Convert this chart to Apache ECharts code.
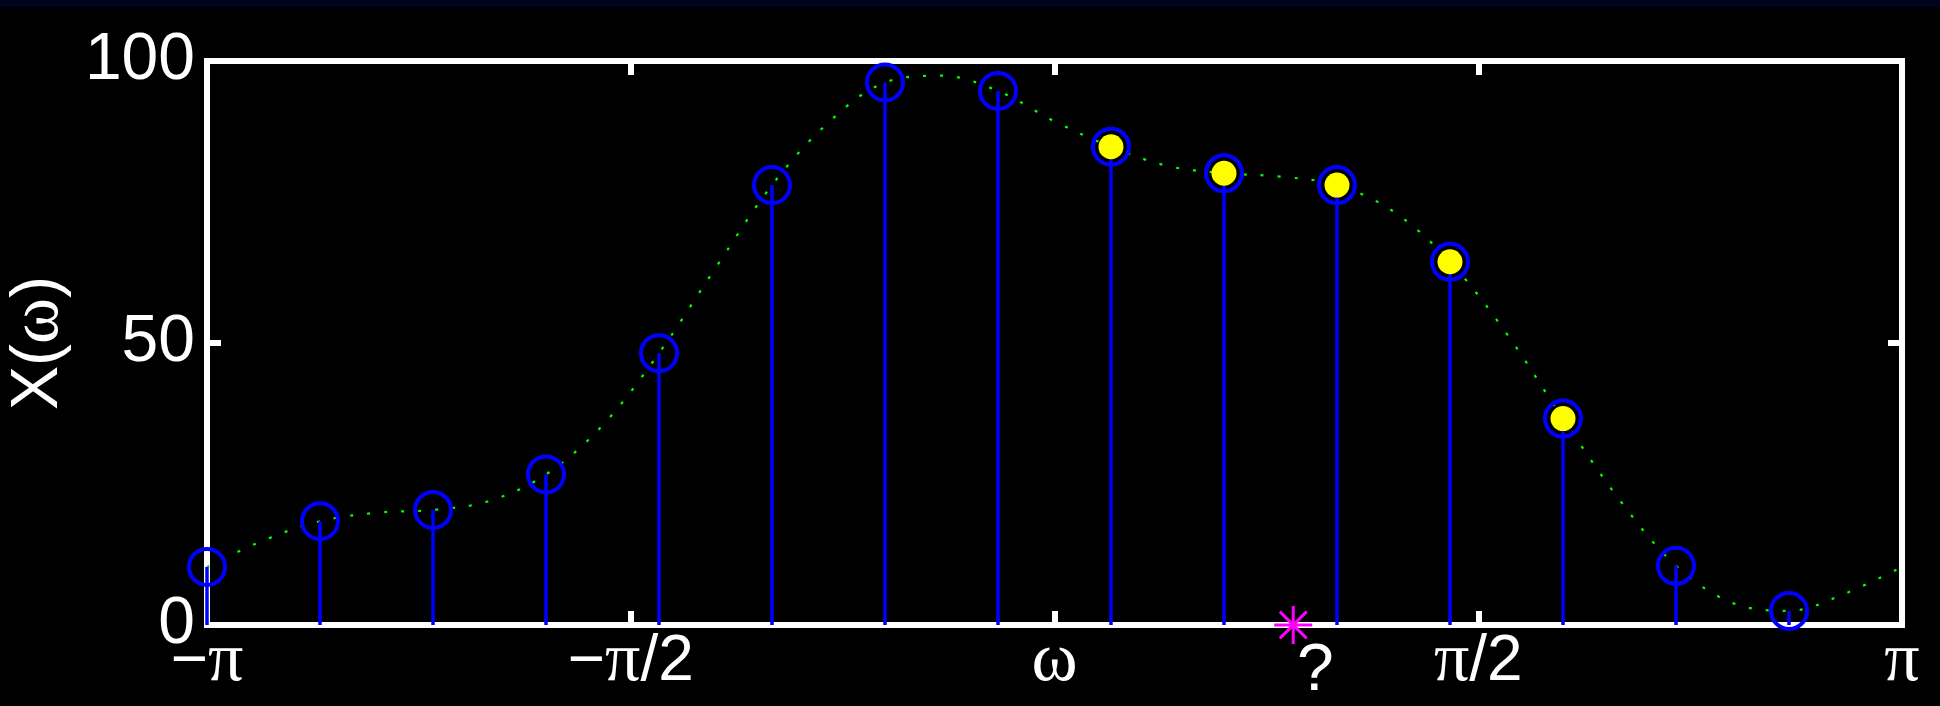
<!DOCTYPE html>
<html>
<head>
<meta charset="utf-8">
<title>X(ω)</title>
<script src="https://cdn.jsdelivr.net/npm/echarts@6/dist/echarts.min.js"></script>
<style>
  html, body { margin: 0; padding: 0; background: #000; }
  #main { width: 1940px; height: 706px; }
</style>
</head>
<body>
<div id="main"></div>
<script type="text/javascript">
var sampleW = [-3.1416, -2.7227, -2.3038, -1.8850, -1.4661, -1.0472, -0.6283, -0.2094,
               0.2094, 0.6283, 1.0472, 1.4661, 1.8850, 2.3038, 2.7227];
var sampleX = [10.3, 18.4, 20.4, 26.7, 48.2, 78.0, 96.2, 94.7,
               84.8, 80.1, 78.0, 64.4, 36.6, 10.5, 2.5];
// stems drawn with a filled (yellow) marker
var filledIdx = [8, 9, 10, 11, 12];

// extra points read on the green dotted curve (between the samples)
var curveW = [-2.9322, -2.5133, -2.0944, -1.6755, -1.2566, -0.8378, -0.4189, 0,
              0.4189, 0.8378, 1.2566, 1.6755, 2.0944, 2.5133, 2.9322, 3.1416];
var curveX = [15.0, 19.9, 22.0, 35.4, 63.3, 89.1, 97.4, 89.3,
              81.4, 79.5, 73.3, 51.7, 22.2, 3.9, 5.6, 10.3];

// the unknown frequency marked with an asterisk
var markW = 0.885;

var xTickLabels = ['−{s|π}', '−{s|π}/2', '{s|ω}', '{s|π}/2', '{s|π}'];
var yTickLabels = ['0', '50', '100'];

var FONT = '"Liberation Sans", Arial, sans-serif';
var SERIF = '"Liberation Serif", "DejaVu Serif", serif';

var stemData = sampleW.map(function (w, i) { return [w, sampleX[i]]; });
var curveData = stemData.concat(curveW.map(function (w, i) { return [w, curveX[i]]; }))
  .sort(function (a, b) { return a[0] - b[0]; });
var filledData = filledIdx.map(function (i) { return [sampleW[i], sampleX[i]]; });

var myChart = echarts.init(document.getElementById('main'));

var frameLine = { onZero: false, lineStyle: { color: '#fff', width: 6, cap: 'square' } };
var frameTick = { show: true, inside: true, length: 14, lineStyle: { color: '#fff', width: 6 } };

var xBase = {
  type: 'value', min: -Math.PI, max: Math.PI, interval: Math.PI / 2,
  splitLine: { show: false },
  axisLine: frameLine, axisTick: frameTick
};
var yBase = {
  type: 'value', min: 0, max: 100, interval: 50,
  splitLine: { show: false },
  axisLine: frameLine, axisTick: frameTick
};

var option = {
  backgroundColor: '#000',
  animation: false,
  graphic: [{
    type: 'rect', left: 0, top: 0, z: 100,
    shape: { width: 1940, height: 7 },
    style: { fill: '#00031e' }
  }],
  grid: {
    left: 207, right: 38, top: 61, bottom: 81,
    containLabel: false, outerBoundsMode: 'none'
  },
  xAxis: [
    Object.assign({}, xBase, {
      position: 'bottom',
      axisLabel: {
        color: '#fff', fontSize: 64, fontFamily: FONT, margin: 2,
        showMinLabel: true, showMaxLabel: true,
        rich: { s: { color: '#fff', fontSize: 70, fontFamily: SERIF } },
        formatter: function (v) {
          return xTickLabels[Math.round(v / (Math.PI / 2)) + 2];
        }
      }
    }),
    Object.assign({}, xBase, { position: 'top', axisLabel: { show: false } })
  ],
  yAxis: [
    Object.assign({}, yBase, {
      position: 'left',
      name: 'X({s|ω})', nameLocation: 'middle', nameRotate: 90, nameGap: 124,
      nameTextStyle: {
        color: '#fff', fontSize: 66, fontFamily: FONT,
        rich: { s: { color: '#fff', fontSize: 70, fontFamily: SERIF } }
      },
      axisLabel: {
        color: '#fff', fontSize: 66, fontFamily: FONT, margin: 12,
        formatter: function (v) { return yTickLabels[Math.round(v / 50)]; }
      }
    }),
    Object.assign({}, yBase, { position: 'right', axisLabel: { show: false } })
  ],
  series: [
    {
      type: 'line', name: 'curve', data: curveData,
      smooth: 0.35, symbol: 'none', clip: false, z: 2,
      lineStyle: { color: '#00ff00', width: 2.2, type: [3, 14] }
    },
    {
      type: 'custom', name: 'stems', data: stemData, clip: false, z: 3,
      renderItem: function (params, api) {
        var p0 = api.coord([api.value(0), 0]);
        var p1 = api.coord([api.value(0), api.value(1)]);
        return {
          type: 'line',
          shape: { x1: p0[0], y1: p0[1], x2: p1[0], y2: p1[1] },
          style: { stroke: '#0000ff', lineWidth: 3.5 }
        };
      }
    },
    {
      type: 'scatter', name: 'rings', data: stemData, clip: false, z: 4,
      symbol: 'circle', symbolSize: 36,
      itemStyle: { color: 'rgba(0,0,0,0)', borderColor: '#0000ff', borderWidth: 4, opacity: 1 }
    },
    {
      type: 'scatter', name: 'filled', data: filledData, clip: false, z: 5,
      symbol: 'circle', symbolSize: 25,
      itemStyle: { color: '#ffff00', opacity: 1 }
    },
    {
      type: 'custom', name: 'mark', data: [[markW, 0]], clip: false, z: 6,
      renderItem: function (params, api) {
        var c = api.coord([api.value(0), api.value(1)]);
        var r = 19, d = 13.4;
        var st = { stroke: '#ff00ff', lineWidth: 3 };
        return {
          type: 'group',
          children: [
            { type: 'line', shape: { x1: c[0] - r, y1: c[1], x2: c[0] + r, y2: c[1] }, style: st },
            { type: 'line', shape: { x1: c[0], y1: c[1] - r, x2: c[0], y2: c[1] + r }, style: st },
            { type: 'line', shape: { x1: c[0] - d, y1: c[1] - d, x2: c[0] + d, y2: c[1] + d }, style: st },
            { type: 'line', shape: { x1: c[0] - d, y1: c[1] + d, x2: c[0] + d, y2: c[1] - d }, style: st },
            {
              type: 'text',
              style: {
                x: c[0] + 22, y: c[1] + 47, text: '?',
                fill: '#fff', font: '66px ' + FONT,
                align: 'center', verticalAlign: 'middle'
              }
            }
          ]
        };
      }
    }
  ]
};

myChart.setOption(option);
</script>
</body>
</html>
